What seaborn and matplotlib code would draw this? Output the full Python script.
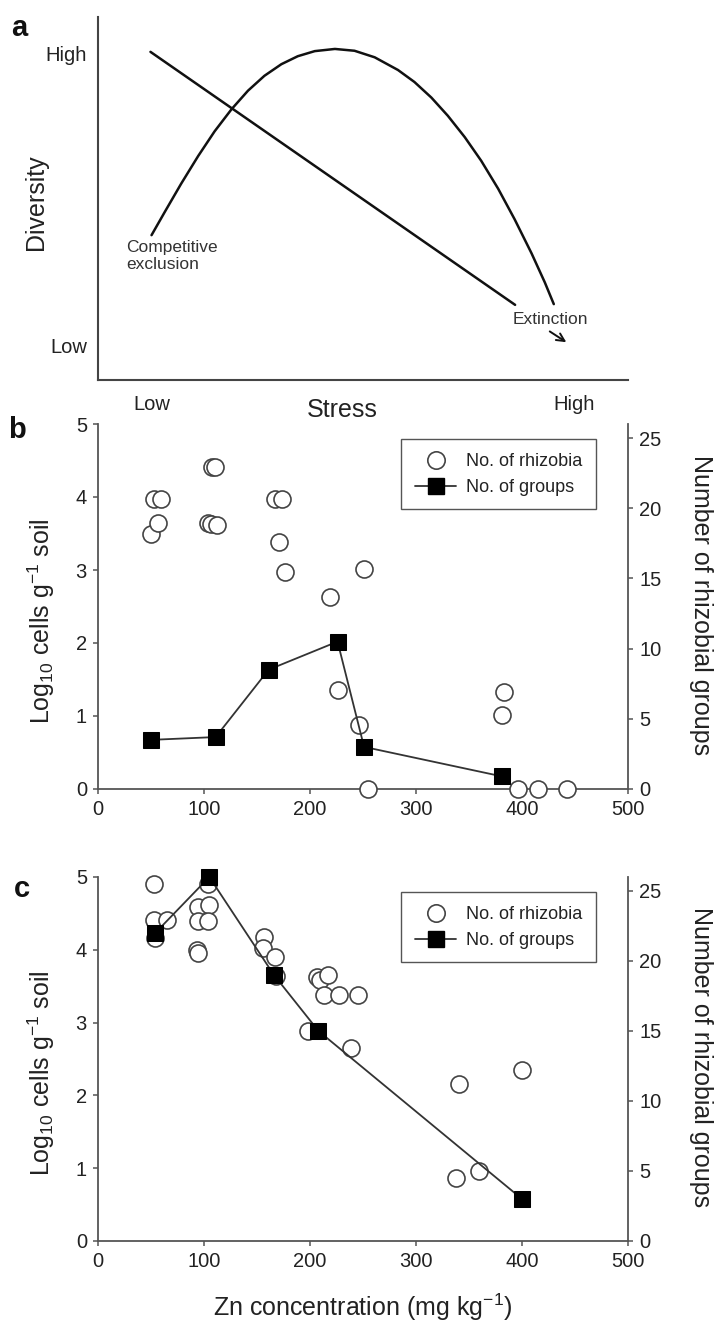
import matplotlib
matplotlib.use("Agg")
import matplotlib.pyplot as plt
from matplotlib.lines import Line2D
import seaborn as sns

# ---- panel a: conceptual stress / diversity sketch (axes fractions) ----
line_stress = [0.099, 0.787]
line_diversity = [0.904, 0.207]
curve_stress = [0.101, 0.126, 0.157, 0.189, 0.220, 0.252, 0.283, 0.314, 0.346,
                0.377, 0.409, 0.447, 0.484, 0.522, 0.566, 0.597, 0.629, 0.660,
                0.692, 0.723, 0.755, 0.786, 0.818, 0.843, 0.860]
curve_diversity = [0.399, 0.463, 0.541, 0.617, 0.685, 0.746, 0.797, 0.838, 0.870,
                   0.892, 0.906, 0.912, 0.907, 0.889, 0.854, 0.821, 0.778, 0.728,
                   0.669, 0.604, 0.527, 0.443, 0.349, 0.269, 0.209]

# ---- panel b ----
b_zn_rhiz = [50, 57, 53, 59, 108, 110, 104, 107, 112, 167, 174, 171, 176, 219,
             251, 226, 246, 255, 383, 381, 396, 415, 442]
b_log_rhiz = [3.49, 3.64, 3.97, 3.97, 4.41, 4.41, 3.64, 3.63, 3.61, 3.97, 3.97,
              3.38, 2.97, 2.63, 3.01, 1.35, 0.87, 0.0, 1.33, 1.01, 0.0, 0.0, 0.0]
b_zn_grp = [50, 111, 161, 226, 251, 381]
b_n_grp = [3.5, 3.7, 8.5, 10.5, 3.0, 0.9]

# ---- panel c ----
c_zn_rhiz = [53, 53, 54, 65, 94, 105, 94, 104, 104, 93, 94, 157, 156, 167, 168,
             207, 209, 217, 213, 227, 245, 198, 239, 341, 400, 338, 359]
c_log_rhiz = [4.90, 4.41, 4.16, 4.41, 4.59, 4.61, 4.40, 4.40, 4.91, 4.00, 3.96,
              4.17, 4.02, 3.90, 3.64, 3.62, 3.58, 3.65, 3.38, 3.38, 3.38, 2.89,
              2.65, 2.16, 2.35, 0.86, 0.96]
c_zn_grp = [54, 105, 166, 208, 400]
c_n_grp = [22, 26, 19, 15, 3]

x_ticks = [0, 100, 200, 300, 400, 500]
left_ticks = [0, 1, 2, 3, 4, 5]
right_ticks = [0, 5, 10, 15, 20, 25]

sns.set_theme(style="ticks")
plt.rcParams["font.family"] = ["Liberation Sans", "DejaVu Sans"]
plt.rcParams["mathtext.fontset"] = "custom"
plt.rcParams["mathtext.rm"] = "Liberation Sans"
plt.rcParams["mathtext.it"] = "Liberation Sans:italic"
plt.rcParams["mathtext.default"] = "regular"

TXT = "#222222"
AXC = "#555555"
W, H = 718, 1322

fig = plt.figure(figsize=(W / 100, H / 100), dpi=100)


def box(left, top, right, bottom):
    return [left / W, 1 - bottom / H, (right - left) / W, (bottom - top) / H]


# ================= panel a =================
ax_a = fig.add_axes(box(98, 17, 628, 380))
sns.lineplot(x=line_stress, y=line_diversity, ax=ax_a, color="#111111", linewidth=1.8)
sns.lineplot(x=curve_stress, y=curve_diversity, ax=ax_a, color="#111111",
             linewidth=1.8, sort=False, estimator=None)
ax_a.set_xlim(0, 1)
ax_a.set_ylim(0, 1)
for s in ["top", "right"]:
    ax_a.spines[s].set_visible(False)
for s in ["left", "bottom"]:
    ax_a.spines[s].set_color("#444444")
    ax_a.spines[s].set_linewidth(1.5)
ax_a.set_xticks([0.102, 0.898], ["Low", "High"])
ax_a.set_yticks([0.096, 0.90], ["Low", "High"])
ax_a.tick_params(axis="x", length=0, pad=11, labelsize=14.5, labelcolor=TXT)
ax_a.tick_params(axis="y", length=0, pad=8, labelsize=14.5, labelcolor=TXT)
ax_a.set_xlabel("Stress", fontsize=18, color=TXT)
ax_a.xaxis.set_label_coords(0.46, -0.05)
ax_a.set_ylabel("Diversity", fontsize=18, color=TXT)
ax_a.yaxis.set_label_coords(-0.094, 0.49)
ax_a.text(0.053, 0.342, "Competitive\nexclusion", fontsize=12.5, color="#333333",
          ha="left", va="center", linespacing=1.15, transform=ax_a.transAxes)
ax_a.text(0.783, 0.167, "Extinction", fontsize=12.5, color="#333333",
          ha="left", va="center", transform=ax_a.transAxes)
ax_a.annotate("", xy=(0.888, 0.10), xytext=(0.848, 0.138), xycoords="axes fraction",
              arrowprops=dict(arrowstyle="->", color="#111111", lw=1.4,
                              mutation_scale=14))


# ================= panels b, c =================
def dual_panel(ax, zn_r, log_r, zn_g, n_g, xlabel):
    sns.scatterplot(x=zn_r, y=log_r, ax=ax, s=150, color="white",
                    edgecolor="#444444", linewidth=1.2, zorder=4, clip_on=False,
                    legend=False)
    ax.set_xlim(0, 500)
    ax.set_ylim(0, 5)
    ax.set_xticks(x_ticks)
    ax.set_yticks(left_ticks)
    for s in ["top", "right"]:
        ax.spines[s].set_visible(False)
    for s in ["left", "bottom"]:
        ax.spines[s].set_color(AXC)
        ax.spines[s].set_linewidth(1.3)
    ax.tick_params(direction="out", length=3.5, width=1.1, color=AXC,
                   labelsize=14.5, labelcolor=TXT, pad=4.5)
    ax.set_ylabel("Log$_{10}$ cells g$^{-1}$ soil", fontsize=18, color=TXT)
    ax.yaxis.set_label_coords(-0.077, 0.46)

    ax2 = ax.twinx()
    sns.lineplot(x=zn_g, y=n_g, ax=ax2, color="#333333", linewidth=1.3,
                 marker="s", markersize=11.5, markerfacecolor="black",
                 markeredgecolor="black", estimator=None, clip_on=False)
    ax2.set_ylim(0, 26)
    ax2.set_yticks(right_ticks)
    for s in ["top", "left", "bottom"]:
        ax2.spines[s].set_visible(False)
    ax2.spines["right"].set_color(AXC)
    ax2.spines["right"].set_linewidth(1.3)
    ax2.tick_params(direction="out", length=3.5, width=1.1, color=AXC,
                    labelsize=14.5, labelcolor=TXT, pad=4.5)
    ax2.set_ylabel("Number of rhizobial groups", fontsize=18, color=TXT,
                   rotation=270, va="bottom")
    ax2.yaxis.set_label_coords(1.115, 0.505)

    if xlabel:
        ax.set_xlabel(xlabel, fontsize=18, color=TXT)
        ax.xaxis.set_label_coords(0.5, -0.139)
    else:
        ax.set_xlabel("")

    handles = [
        Line2D([], [], marker="o", ls="none", ms=12.5, mfc="white",
               mec="#444444", mew=1.2),
        Line2D([], [], marker="s", color="#333333", lw=1.3, ms=11.5,
               mfc="black", mec="black"),
    ]
    leg = ax2.legend(handles, ["No. of rhizobia", "No. of groups"],
                     loc="upper right", bbox_to_anchor=(0.94, 0.958),
                     borderaxespad=0, frameon=True, fancybox=False,
                     edgecolor="#555555", framealpha=1, fontsize=13,
                     handlelength=2.3, handletextpad=0.55, borderpad=0.75,
                     labelspacing=0.5)
    leg.get_frame().set_linewidth(1.0)
    for t in leg.get_texts():
        t.set_color(TXT)
    return ax, ax2


ax_b = fig.add_axes(box(98, 424, 628, 789))
dual_panel(ax_b, b_zn_rhiz, b_log_rhiz, b_zn_grp, b_n_grp, None)

ax_c = fig.add_axes(box(98, 877, 628, 1241))
dual_panel(ax_c, c_zn_rhiz, c_log_rhiz, c_zn_grp, c_n_grp,
           "Zn concentration (mg kg$^{-1}$)")

# panel letters
for letter, px, py in [("a", 19, 28), ("b", 17, 430), ("c", 22, 889)]:
    fig.text(px / W, 1 - py / H, letter, fontsize=21, fontweight="bold",
             color="#111111", ha="center", va="center")

fig.savefig("out.png", dpi=100)
